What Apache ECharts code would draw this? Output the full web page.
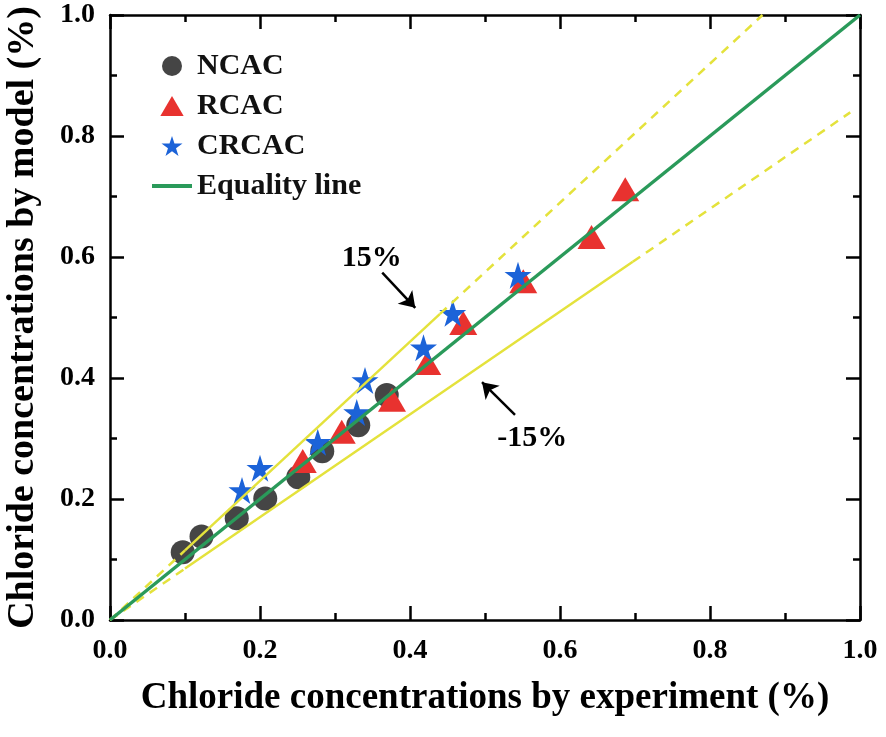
<!DOCTYPE html>
<html>
<head>
<meta charset="utf-8">
<title>Chloride concentrations: model vs experiment</title>
<script src="https://cdn.jsdelivr.net/npm/echarts@6/dist/echarts.min.js"></script>
<style>
  html, body { margin: 0; padding: 0; background: #fff; }
  #chart { width: 886px; height: 737px; }
</style>
</head>
<body>
<div id="chart"></div>
<script>
// Model vs experiment scatter with the equality line and the ±15% band.

const FONT = '"Liberation Serif", "Times New Roman", serif';

// [experiment, model] pairs
const ncac = [
  [0.097, 0.112], [0.122, 0.138], [0.169, 0.168], [0.207, 0.201],
  [0.251, 0.236], [0.283, 0.279], [0.331, 0.322], [0.369, 0.372]
];
const rcac = [
  [0.257, 0.263], [0.309, 0.311], [0.376, 0.364], [0.423, 0.425],
  [0.471, 0.491], [0.551, 0.560], [0.642, 0.633], [0.687, 0.712]
];
const crcac = [
  [0.176, 0.214], [0.200, 0.251], [0.277, 0.294], [0.329, 0.343],
  [0.340, 0.396], [0.418, 0.450], [0.457, 0.507], [0.544, 0.570]
];

const equality = [[0, 0], [1, 1]];
// +15% line: dashed near origin, solid over the data, dashed extension
const upperDashLow = [[0, 0], [0.10, 0.115]];
const upperSolid = [[0.10, 0.115], [0.44, 0.506]];
const upperDashHigh = [[0.44, 0.506], [0.87, 1.0]];
// -15% line
const lowerDashLow = [[0, 0], [0.10, 0.085]];
const lowerSolid = [[0.10, 0.085], [0.697, 0.592]];
const lowerDashHigh = [[0.697, 0.592], [0.987, 0.839]];

// annotation text and arrows (data coords)
const bandLabels = [
  { text: "15%", at: [0.349, 0.598] },
  { text: "-15%", at: [0.563, 0.301] }
];
const bandArrows = [
  [[0.363, 0.574], [0.407, 0.516]],
  [[0.540, 0.339], [0.496, 0.393]]
];

const STAR = "path://M50,0 L61.2,34.5 L97.6,34.5 L68.2,55.9 L79.4,90.5 L50,69.1 L20.6,90.5 L31.8,55.9 L2.4,34.5 L38.8,34.5 Z";
const TRI = "path://M14,0 L28,24 L0,24 Z";
const DASH = "path://M0,0 L40,0 L40,4 L0,4 Z";
const C_DARK = "#454545", C_RED = "#e8322f", C_BLUE = "#1c63d8";
const C_GREEN = "#2a9a5a", C_YELLOW = "#e4e23c";

function axisCommon(extra) {
  return Object.assign({
    type: "value", min: 0, max: 1, interval: 0.2,
    axisLine: { show: true, onZero: false, lineStyle: { color: "#000", width: 2.5 } },
    axisTick: { show: true, inside: true, length: 14, lineStyle: { color: "#000", width: 2.5 } },
    minorTick: { show: true, splitNumber: 2, length: 7, lineStyle: { color: "#000", width: 2.5 } },
    splitLine: { show: false },
    minorSplitLine: { show: false }
  }, extra);
}

const labelStyle = {
  color: "#000", fontFamily: FONT, fontWeight: "bold", fontSize: 28,
  formatter: (v) => v.toFixed(1)
};

function yellowLine(data, dashed) {
  return {
    type: "line", data: data, symbol: "none", silent: true, z: 4,
    lineStyle: { color: C_YELLOW, width: 2.5, type: dashed ? [9, 7] : "solid" },
    tooltip: { show: false }
  };
}

const chart = echarts.init(document.getElementById("chart"), null, { renderer: "canvas" });
chart.setOption({
  backgroundColor: "#fff",
  animation: false,
  grid: { left: 110, right: 26, top: 15, bottom: 117, containLabel: false, outerBoundsMode: "none" },
  legend: {
    orient: "vertical", left: 147, top: 46,
    itemWidth: 40, itemHeight: 20, itemGap: 10,
    symbolKeepAspect: true,
    textStyle: { color: "#111", fontFamily: FONT, fontWeight: "bold", fontSize: 30, lineHeight: 29 },
    data: [
      { name: "NCAC", icon: "circle" },
      { name: "RCAC", icon: TRI },
      { name: "CRCAC", icon: STAR },
      { name: "Equality line", icon: DASH }
    ]
  },
  xAxis: [
    axisCommon({
      position: "bottom",
      axisLabel: Object.assign({ margin: 17 }, labelStyle),
      name: "Chloride concentrations by experiment (%)",
      nameLocation: "middle", nameGap: 60,
      nameTextStyle: { color: "#000", fontFamily: FONT, fontWeight: "bold", fontSize: 37 }
    }),
    axisCommon({ position: "top", axisLabel: { show: false } })
  ],
  yAxis: [
    axisCommon({
      position: "left",
      axisLabel: Object.assign({ margin: 15 }, labelStyle),
      name: "Chloride concentrations by model (%)",
      nameLocation: "middle", nameGap: 68,
      nameTextStyle: { color: "#000", fontFamily: FONT, fontWeight: "bold", fontSize: 38 }
    }),
    axisCommon({ position: "right", axisLabel: { show: false } })
  ],
  series: [
    { name: "NCAC", type: "scatter", data: ncac, symbol: "circle", symbolSize: 24,
      itemStyle: { color: C_DARK, opacity: 1 }, z: 2 },
    { name: "RCAC", type: "scatter", data: rcac, symbol: "triangle", symbolSize: [28, 24],
      itemStyle: { color: C_RED, opacity: 1 }, z: 2 },
    { name: "CRCAC", type: "scatter", data: crcac, symbol: STAR, symbolSize: 27,
      itemStyle: { color: C_BLUE, opacity: 1 }, z: 3 },
    yellowLine(upperDashLow, true),
    yellowLine(upperSolid, false),
    yellowLine(upperDashHigh, true),
    yellowLine(lowerDashLow, true),
    yellowLine(lowerSolid, false),
    yellowLine(lowerDashHigh, true),
    {
      name: "Equality line", type: "line", data: equality, symbol: "none", z: 5,
      itemStyle: { color: C_GREEN },
      lineStyle: { color: C_GREEN, width: 3.5 },
      markLine: {
        silent: true, symbol: ["none", "arrow"], symbolSize: 15,
        label: { show: false },
        lineStyle: { color: "#000", width: 2.5, type: "solid" },
        emphasis: { disabled: true },
        data: bandArrows.map((a) => [{ coord: a[0] }, { coord: a[1] }])
      },
      markPoint: {
        silent: true, symbol: "circle", symbolSize: 0,
        label: {
          show: true, position: "inside", color: "#000",
          fontFamily: FONT, fontWeight: "bold", fontSize: 30,
          formatter: (p) => p.name
        },
        data: bandLabels.map((l) => ({ name: l.text, coord: l.at }))
      }
    }
  ]
});
</script>
</body>
</html>
